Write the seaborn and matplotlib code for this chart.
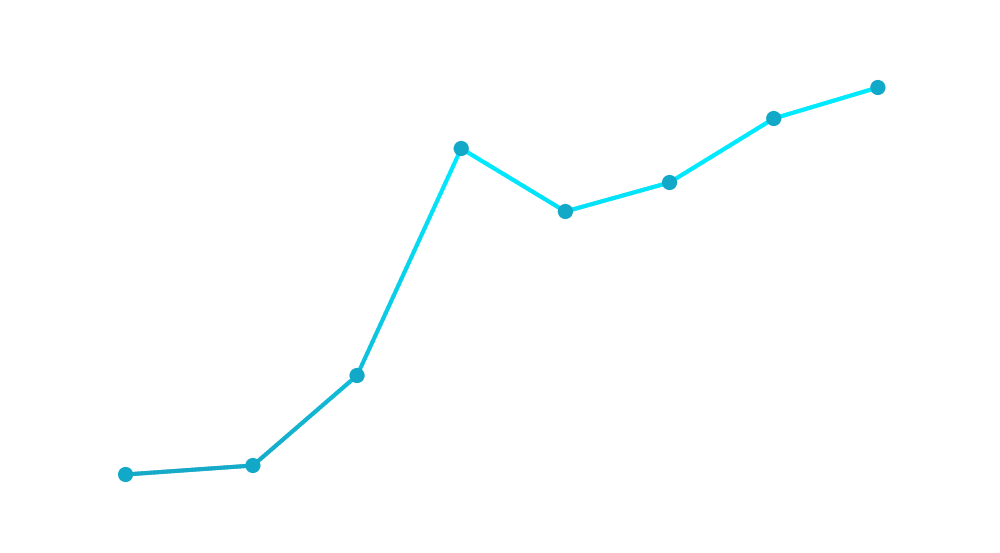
import numpy as np
import pandas as pd
import seaborn as sns
import matplotlib.pyplot as plt
from matplotlib.collections import LineCollection
from matplotlib.colors import LinearSegmentedColormap, Normalize

# data
days = [0, 11, 20, 29, 38, 47, 56, 65]
values = [26, 35, 125, 352, 289, 318, 382, 413]

df = pd.DataFrame({"day": days, "value": values})

sns.set_style("white")
fig = plt.figure(figsize=(10, 5.53), dpi=100)
ax = fig.add_axes([0, 0, 1, 1])

# gradient line, coloured by height
cmap = LinearSegmentedColormap.from_list("teal", ["#16aac8", "#00eaff"])
norm = Normalize(vmin=30, vmax=340, clip=True)
xs, ys = [], []
for i in range(len(days) - 1):
    t = np.linspace(0, 1, 40, endpoint=False)
    xs.extend(days[i] + t * (days[i + 1] - days[i]))
    ys.extend(values[i] + t * (values[i + 1] - values[i]))
xs.append(days[-1])
ys.append(values[-1])
pts = np.column_stack([xs, ys]).reshape(-1, 1, 2)
segs = np.concatenate([pts[:-1], pts[1:]], axis=1)
mid = (np.array(ys[:-1]) + np.array(ys[1:])) / 2
lc = LineCollection(segs, colors=cmap(norm(mid)), linewidth=3, capstyle="round", zorder=2)
ax.add_collection(lc)

sns.scatterplot(data=df, x="day", y="value", ax=ax, color="#12a8c8", s=120,
                edgecolor="none", zorder=3, legend=False)

ax.set_xlim(-10.85, 75.55)
ax.set_ylim(-52.5, 500.5)
ax.axis("off")

fig.savefig("out.png", dpi=100, facecolor="white")
